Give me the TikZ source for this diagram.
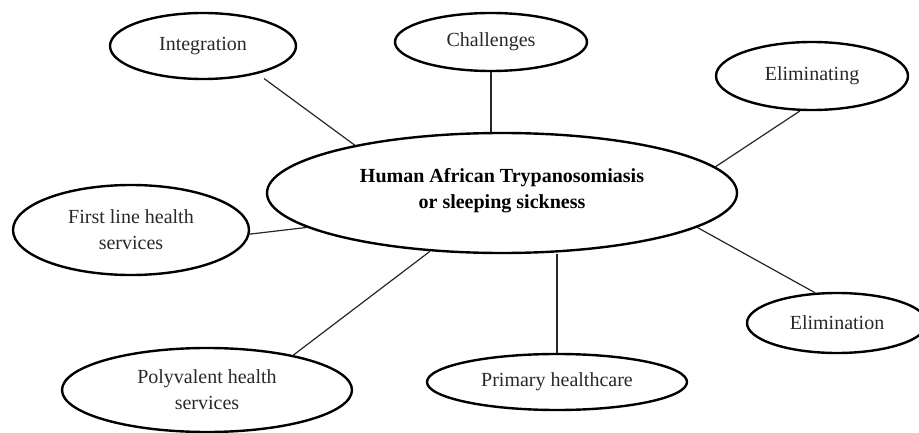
\documentclass[tikz,border=0pt]{standalone}
\usepackage{fontspec}
\setmainfont{Liberation Serif}
\usetikzlibrary{shapes.geometric}
\definecolor{txt}{RGB}{40,40,40}
\begin{document}
\begin{tikzpicture}[x=1pt,y=-1pt,
  bub/.style={ellipse, draw=black, line width=2.4pt, inner sep=0pt, align=center,
              font=\fontsize{20}{26}\selectfont, text=txt},
  conn/.style={line width=1.2pt, draw=black!85}]
\useasboundingbox (0,0) rectangle (919,433);
\node[bub, minimum width=470pt, minimum height=120pt,
      font=\bfseries\fontsize{20}{26}\selectfont, text=black] (c) at (502,193)
      {Human African Trypanosomiasis\\or sleeping sickness\\[-16pt]\mbox{}};
\node[bub, minimum width=186pt, minimum height=66pt] (int) at (203,46) {Integration};
\node[bub, minimum width=192pt, minimum height=58pt] (ch) at (491,42) {Challenges};
\node[bub, minimum width=192pt, minimum height=68pt] (elg) at (812,76) {Eliminating};
\node[bub, minimum width=236pt, minimum height=90pt] (fl) at (131,230) {First line health\\services};
\node[bub, minimum width=290pt, minimum height=84pt] (pv) at (207,390) {Polyvalent health\\services};
\node[bub, minimum width=260pt, minimum height=56pt] (pr) at (557,382) {Primary healthcare};
\node[bub, minimum width=180pt, minimum height=60pt] (eln) at (837,323) {Elimination};
\draw[conn, shorten <=8pt] (int.-27) -- (c.162);
\draw[conn] (ch.south) -- (ch.south |- c.north);
\draw[conn] (elg.-109) -- (c.7);
\draw[conn] (fl.-2) -- (c.190);
\draw[conn] (pv.22) -- (c.219);
\draw[conn] (pr.north) -- (pr.north |- c.south);
\draw[conn] (eln.126) -- (c.-10);
\end{tikzpicture}
\end{document}
